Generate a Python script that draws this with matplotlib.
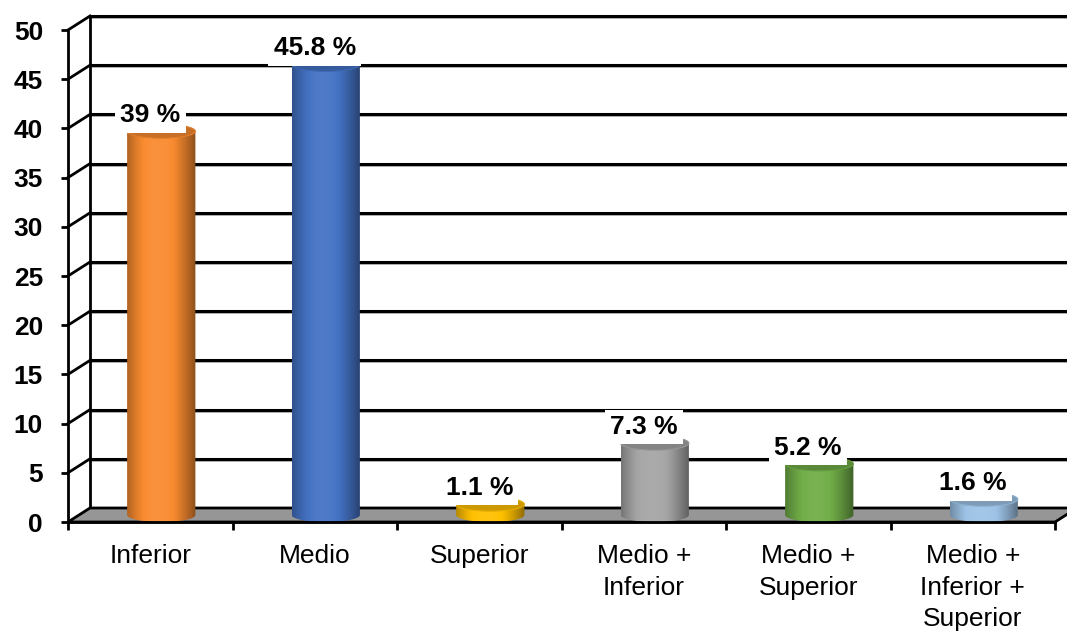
import numpy as np
import matplotlib
matplotlib.use("Agg")
import matplotlib.pyplot as plt
from matplotlib.patches import Polygon, Ellipse, PathPatch
from matplotlib.path import Path
import matplotlib.colors as mcolors

# ---- data ----
categories = ["Inferior", "Medio", "Superior", "Medio +\nInferior",
              "Medio +\nSuperior", "Medio +\nInferior +\nSuperior"]
values = [39.0, 45.8, 1.1, 7.3, 5.2, 1.6]
labels = ["39 %", "45.8 %", "1.1 %", "7.3 %", "5.2 %", "1.6 %"]
colors = ["#F98B30", "#4472C4", "#FFC000", "#A5A5A5", "#70AD47", "#9DC3E6"]
yticks = [0, 5, 10, 15, 20, 25, 30, 35, 40, 45, 50]

plt.rcParams['font.family'] = ['Liberation Sans', 'DejaVu Sans']

W, H = 1067, 632
fig = plt.figure(figsize=(W / 100, H / 100), dpi=100)
fig.patch.set_facecolor("white")
ax = fig.add_axes([68 / W, (H - 522) / H, 987 / W, 492 / H])
ax.set_facecolor("none")
n = len(categories)
ax.set_xlim(-0.5, n - 0.5)
ax.set_ylim(0, 50)

# depth offset (pixels) converted to data units
DX, DY = 22, 14
p0 = ax.transData.transform((-0.5, 0))
q = ax.transData.inverted().transform(p0 + np.array([DX, DY]))
ddx, ddy = q[0] + 0.5, q[1]

xl, xr = -0.5, n - 0.5

# back wall gridlines (with soft shadow)
sh = ax.transData.inverted().transform(p0 + np.array([0, -2]))[1]
for v in yticks[1:]:
    ax.plot([xl + ddx, xr + ddx], [v + ddy + sh, v + ddy + sh], color="#b0b0b0",
            lw=1.4, clip_on=False, zorder=0.9, solid_capstyle="butt")
    ax.plot([xl + ddx, xr + ddx], [v + ddy, v + ddy], color="black",
            lw=2.2, clip_on=False, zorder=1, solid_capstyle="butt")
# back wall left edge
ax.plot([xl + ddx, xl + ddx], [ddy, 50 + ddy], color="black", lw=2.0,
        clip_on=False, zorder=1)
# side wall diagonals
for v in yticks[1:]:
    ax.plot([xl, xl + ddx], [v, v + ddy], color="black", lw=2.0,
            clip_on=False, zorder=1)

# floor
floor = Polygon([(xl, 0), (xr, 0), (xr + ddx, ddy), (xl + ddx, ddy)],
                closed=True, facecolor="#969696", edgecolor="black", lw=2.0,
                clip_on=False, zorder=1.5)
ax.add_patch(floor)

# cylinders
bw = 0.415  # bar width in category units
eh = ax.transData.inverted().transform(p0 + np.array([0, 14]))[1]  # ellipse full height
t = np.linspace(0, 1, 256)
shade = 0.62 + 0.48 * np.cos((t - 0.45) * np.pi * 0.98)
for i, (v, c) in enumerate(zip(values, colors)):
    cx = i + ddx / 2
    cy0 = ddy / 2
    top = v + cy0
    rgb = np.array(mcolors.to_rgb(c))
    grad = np.zeros((1, 256, 3))
    for k in range(3):
        g = rgb[k] * shade
        g = np.where(shade > 1, rgb[k] + (1 - rgb[k]) * (shade - 1) * 0.6, g)
        grad[0, :, k] = np.clip(g, 0, 1)
    x0, x1 = cx - bw / 2, cx + bw / 2
    th = np.linspace(np.pi, 2 * np.pi, 40)
    verts = [(x0, top), (x0, cy0)]
    verts += [(cx + bw / 2 * np.cos(a), cy0 + eh / 2 * np.sin(a)) for a in th]
    verts += [(x1, cy0), (x1, top), (x0, top)]
    path = Path(verts, closed=False)
    clip = PathPatch(path, facecolor="none", edgecolor="none", zorder=2,
                     clip_on=False)
    ax.add_patch(clip)
    im = ax.imshow(grad, extent=[x0, x1, cy0 - eh / 2, top], aspect="auto",
                   interpolation="bilinear", zorder=2)
    im.set_clip_path(clip)
    topc = np.clip(rgb * 0.8, 0, 1)
    ax.add_patch(Ellipse((cx, top), bw, eh, facecolor=topc,
                         edgecolor=np.clip(rgb * 0.9, 0, 1), lw=0.8, zorder=3,
                         clip_on=False))

ax.set_xlim(-0.5, n - 0.5)
ax.set_ylim(0, 50)

# value labels
lab_off = ax.transData.inverted().transform(p0 + np.array([0, 23]))[1]
for i, (v, s) in enumerate(zip(values, labels)):
    ax.text(i, v + lab_off, s, ha="center", va="center", fontsize=19,
            fontweight="bold", zorder=5,
            bbox=dict(boxstyle="square,pad=0.2", facecolor="white",
                      edgecolor="none"))

# front axes
for s in ["top", "right"]:
    ax.spines[s].set_visible(False)
for s in ["left", "bottom"]:
    ax.spines[s].set_linewidth(2.0)
    ax.spines[s].set_zorder(4)
ax.set_yticks(yticks)
ax.set_yticklabels([str(v) for v in yticks], fontsize=19, fontweight="bold")
ax.tick_params(axis="y", length=5, width=2, pad=13)
ax.set_xticks(np.arange(-0.5, n, 1.0))
ax.set_xticklabels([])
ax.tick_params(axis="x", which="major", length=6, width=2, direction="out")
ax.set_xticks(np.arange(n), minor=True)
ax.set_xticklabels(categories, minor=True, fontsize=19, linespacing=1.4)
ax.tick_params(axis="x", which="minor", length=0, pad=16)
for lbl in ax.get_xticklabels(minor=True):
    lbl.set_verticalalignment("top")
    lbl.set_multialignment("center")

fig.savefig("out.png", dpi=100, facecolor="white")
